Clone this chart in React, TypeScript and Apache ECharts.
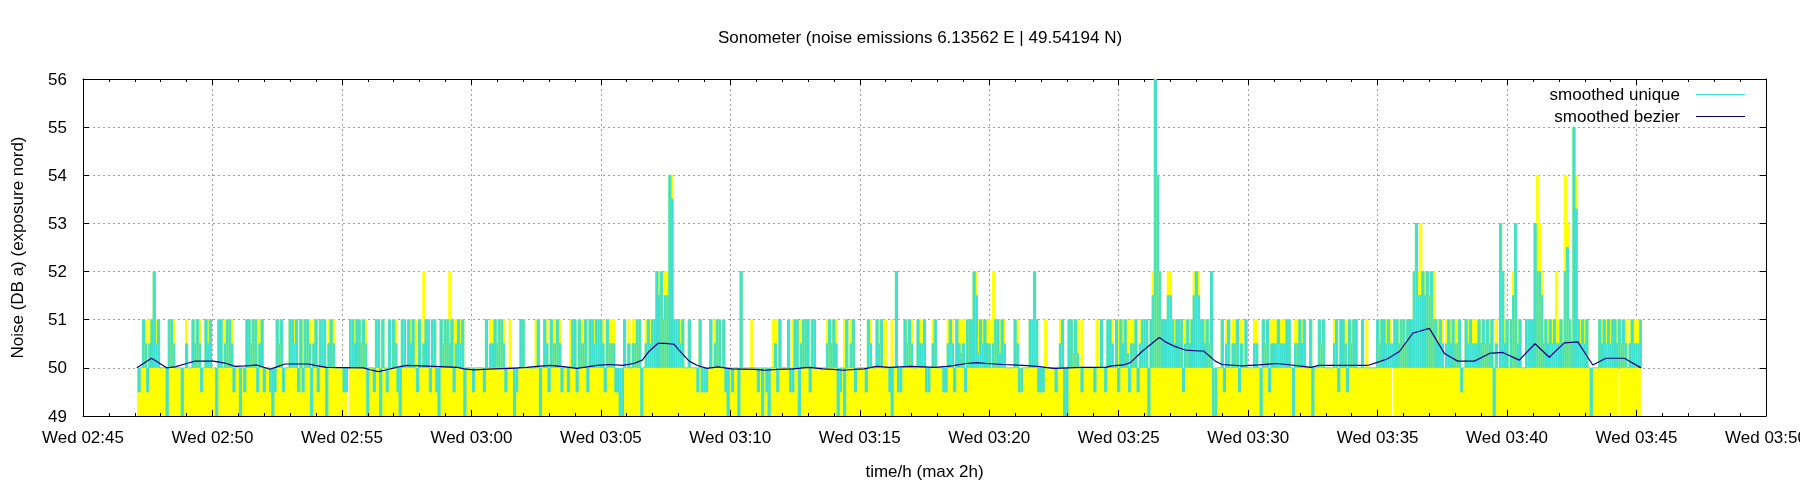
import * as echarts from "echarts";
import { useEffect, useRef } from "react";

// x values are minutes after 02:45; the sonometer gives one reading every 5 s from 02:47:05
const firstSample = 2 + 5 / 60;
const sampleStep = 5 / 60;

const TITLE = "Sonometer (noise emissions 6.13562 E | 49.54194 N)";
const TICK_LABELS = [
  "Wed 02:45", "Wed 02:50", "Wed 02:55", "Wed 03:00", "Wed 03:05", "Wed 03:10", "Wed 03:15",
  "Wed 03:20", "Wed 03:25", "Wed 03:30", "Wed 03:35", "Wed 03:40", "Wed 03:45", "Wed 03:50",
];

// smoothed unique (one row per minute)
const unique0247 = [
  50, 49.5, 50, 51, 50.5, 49.5, 50.5, 51, 52, 50.5, 51,
  50, 50, 50, 49, 51, 51, 50.5, 50, 50, 50, 49, 50,
  50.5, 50, 50, 51, 50.5, 51, 50.5, 49.5, 50, 51, 50.5, 51,
  50, 50, 49, 51, 51, 50, 50.5, 51, 51, 50.5, 49.5, 50,
  50, 49, 50, 49.5, 51, 51, 50.5, 51, 51, 49.5, 50.5, 51,
  49.5, 50, 50, 49.5, 49, 49.5, 51, 50.5, 51, 49.5, 50, 50,
  51, 51, 50.5, 51, 49.5, 51, 49.5, 51, 51, 50.5, 49, 50.5,
  51, 49.5, 51, 51, 51, 49, 50.5, 51, 50.5, 50, 50, 50,
];
const unique0255 = [
  50, 49.5, 49.5, 50, 51, 51, 50.5, 51, 51, 50.5, 51, 50.5,
  49, 50, 50, 49.5, 51, 51, 49, 51, 50, 49.5, 51, 50,
  51, 50.5, 49.5, 49, 51, 51, 50, 51, 50.5, 51, 50, 49.5,
  51, 50, 50.5, 51, 51, 49.5, 51, 51, 49.5, 49, 51, 50.5,
  51, 51, 50.5, 51, 49.5, 50.5, 51, 50.5, 51, 49, 50, 50,
  50, 49.5, 50, 50, 50, 50, 49.5, 51, 50, 50.5, 50.5, 51,
  50.5, 51, 51, 50.5, 49.5, 50, 50, 50, 49, 49.5, 50, 51,
  51, 50, 50, 50, 50, 50, 50, 51, 49, 50, 51, 50.5,
  49.5, 51, 50.5, 50.5, 51, 50.5, 49.5, 50, 50, 49.5, 50, 51,
  51, 49.5, 51, 50.5, 50.5, 51, 49.5, 51, 51, 50.5, 51, 51,
];
const unique0305 = [
  51, 50.5, 49.5, 51, 50.5, 50.5, 50.5, 49.5, 49.5, 49, 49, 51,
  50, 50.5, 50, 50.5, 50.5, 51, 51, 49, 50, 50.5, 51, 50.5,
  51, 51, 52, 51.5, 52, 51, 51.5, 51.5, 54, 53.5, 51, 51,
  51, 50.5, 51, 50, 50, 51, 50, 50, 50, 49.5, 51, 49.5,
  49.5, 49.5, 50, 51, 50, 50.5, 51, 51, 50, 51, 49.5, 49,
  50, 49.5, 50, 50, 49, 52, 50, 50, 50, 50, 50, 50,
  50, 49.5, 50, 49, 50, 49.5, 49, 50, 50, 50.5, 49.5, 51,
  50, 50, 50, 51, 49.5, 49.5, 51, 51, 49, 50.5, 51, 51,
  51, 49.5, 51, 51, 50, 50, 50, 50, 50, 50.5, 51, 50.5,
  51, 50.5, 49, 49.5, 50, 49, 51, 50, 50.5, 51, 49.5, 50,
];
const unique0315 = [
  50, 50, 50, 49.5, 51, 50.5, 50, 50, 51, 50.5, 51, 50,
  50, 50, 49.5, 49, 50, 52, 49.5, 49.5, 50, 51, 50.5, 51,
  50.5, 50, 50, 51, 50.5, 50.5, 51, 49.5, 49.5, 50, 50.5, 51,
  50, 50, 50, 49.5, 49.5, 50.5, 51, 50.5, 49.5, 51, 50.5, 50.3,
  50.5, 49.5, 51, 51, 51, 52, 51.5, 50.3, 51, 50.5, 51, 50.5,
  50.5, 50, 50.5, 51, 51, 50.3, 51, 50.5, 50, 50, 50, 50,
  51, 50.5, 49.5, 49.5, 50, 50, 50, 51, 51, 52, 51, 49.5,
  49.5, 49.5, 50, 50, 50, 50, 50, 49.5, 50, 50.5, 51, 49,
  49, 51, 51, 50.3, 51, 50.3, 50, 49.5, 50, 50, 50, 50,
  50, 49.5, 50, 50, 51, 50, 49.5, 51, 51, 50.5, 50, 51,
];
const unique0325 = [
  49.5, 51, 50.5, 51, 50.3, 49.5, 50.5, 50.5, 51, 49.5, 50.5, 51,
  51, 51, 49, 51, 51.5, 56, 54, 52, 51, 51, 51, 51.5,
  51.5, 51, 50.5, 51, 51, 51, 49.5, 50.5, 51, 50.5, 51, 51.5,
  52, 51.5, 51, 51, 50.5, 51, 50.5, 52, 49, 49, 50, 50,
  51, 49.5, 50.5, 51, 50, 50.5, 50.5, 51, 49.5, 50.5, 50, 51,
  50, 50, 50, 50.5, 50.5, 50, 49, 51, 50.5, 51, 49.5, 50.5,
  50.5, 50.5, 51, 50.5, 50.5, 50.5, 51, 51, 50, 49, 50.5, 50.5,
  51, 50.5, 51, 50, 50, 51, 49, 50, 50, 51, 50.5, 51,
  50, 50, 50, 50, 50.5, 51, 49.5, 51, 51, 50.5, 49.5, 51,
  50.5, 51, 51, 50, 50, 51, 50, 50, 50, 50, 50, 50,
];
const unique0335 = [
  51, 50.5, 51, 51, 50.5, 51, 50.5, 50.5, 51, 51, 50.5, 51,
  51, 50.5, 51, 51, 51, 52, 53, 51.5, 51.5, 52, 51.5, 52,
  51.5, 52, 51, 51, 50.5, 51, 50.5, 50, 50.5, 51, 50.5, 51,
  50.5, 50.5, 51, 49.5, 50, 51, 50.5, 51, 50.5, 50.5, 50.5, 51,
  50.5, 51, 50.5, 51, 50.5, 51, 49, 50.5, 50, 53, 52, 50.5,
  51, 50, 51, 51.5, 53, 50.5, 51, 50, 50, 51, 51, 51,
  51, 53, 52, 52, 51.5, 50.5, 51, 50.5, 51, 50.5, 51, 50.5,
  50.5, 51, 50.5, 52, 52.5, 51, 50.5, 55, 53.3, 51, 50.5, 51,
  50.5, 51, 50, 49, 50, 50, 50, 51, 50.5, 51, 50.5, 51,
  50.5, 51, 51, 50.5, 51, 50.5, 51, 50.5, 50, 50.5, 51, 50.5,
  50.5, 50.5, 51,
];

// raw readings (drawn as yellow impulses)
const raw0247 = [
  50, 50, 50, 51, 51, 50, 51, 51, 52, 51, 51,
  50, 50, 50, 50, 51, 51, 51, 50, 50, 50, 50, 50,
  51, 50, 50, 51, 51, 51, 51, 50, 50, 51, 51, 51,
  50, 50, 50, 51, 51, 50, 51, 51, 51, 51, 50, 50,
  50, 50, 50, 50, 51, 51, 51, 51, 51, 51, 51, 51,
  50, 50, 50, 50, 50, 50, 51, 51, 51, 50, 50, 50,
  51, 51, 51, 51, 50, 51, 51, 51, 51, 51, 50, 51,
  51, 50, 51, 51, 51, 50, 51, 51, 51, 50, 50, 50,
];
const raw0255 = [
  50, 50, 50, 49, 51, 51, 51, 51, 51, 51, 51, 51,
  50, 50, 50, 50, 51, 51, 50, 51, 50, 50, 51, 50,
  51, 51, 50, 50, 51, 51, 50, 51, 51, 51, 51, 50,
  51, 50, 52, 51, 51, 50, 51, 51, 50, 50, 51, 51,
  51, 51, 52, 51, 51, 51, 51, 51, 51, 50, 50, 50,
  50, 50, 50, 50, 50, 50, 50, 51, 50, 51, 51, 51,
  51, 51, 51, 51, 50, 50, 51, 50, 50, 50, 50, 51,
  51, 50, 50, 50, 50, 50, 51, 51, 50, 50, 51, 51,
  50, 51, 51, 51, 51, 51, 50, 50, 50, 50, 51, 51,
  51, 50, 51, 51, 51, 51, 50, 51, 51, 51, 51, 51,
];
const raw0305 = [
  51, 51, 50, 51, 51, 51, 51, 50, 50, 50, 50, 51,
  50, 51, 50, 51, 51, 51, 51, 50, 50, 51, 51, 51,
  51, 51, 52, 52, 52, 51, 52, 52, 54, 54, 51, 51,
  51, 51, 51, 50, 50, 51, 50, 50, 50, 50, 51, 50,
  50, 50, 50, 51, 50, 51, 51, 51, 50, 51, 50, 50,
  50, 50, 50, 50, 50, 52, 50, 50, 50, 50, 51, 50,
  50, 50, 50, 50, 50, 50, 50, 50, 51, 51, 50, 51,
  50, 50, 50, 51, 50, 51, 51, 51, 50, 51, 51, 51,
  51, 50, 51, 51, 50, 50, 50, 50, 50, 51, 51, 51,
  51, 51, 50, 50, 50, 51, 51, 50, 51, 51, 50, 50,
];
const raw0315 = [
  50, 50, 50, 50, 51, 51, 50, 50, 51, 51, 51, 50,
  51, 50, 50, 51, 50, 52, 50, 50, 50, 51, 51, 51,
  51, 50, 50, 51, 51, 51, 51, 50, 50, 50, 51, 51,
  50, 50, 50, 50, 50, 51, 51, 51, 50, 51, 51, 51,
  51, 50, 51, 51, 51, 52, 52, 51, 51, 51, 51, 51,
  51, 50, 52, 51, 51, 51, 51, 51, 50, 50, 50, 50,
  51, 51, 50, 50, 50, 50, 50, 51, 51, 52, 51, 50,
  50, 50, 51, 50, 50, 50, 50, 50, 50, 51, 51, 50,
  50, 51, 51, 51, 51, 51, 50, 51, 50, 50, 50, 50,
  50, 50, 51, 50, 51, 50, 50, 51, 51, 51, 50, 51,
];
const raw0325 = [
  51, 51, 51, 51, 51, 50, 51, 51, 51, 50, 51, 51,
  51, 51, 50, 51, 52, 56, 54, 52, 51, 51, 51, 52,
  52, 51, 51, 51, 51, 51, 50, 51, 51, 51, 51, 52,
  52, 52, 51, 51, 51, 51, 51, 52, 50, 50, 50, 50,
  51, 50, 51, 51, 50, 51, 51, 51, 50, 51, 50, 51,
  50, 50, 50, 51, 51, 50, 50, 51, 51, 51, 50, 51,
  51, 51, 51, 51, 51, 51, 51, 51, 50, 50, 51, 51,
  51, 51, 51, 50, 50, 51, 50, 50, 50, 51, 51, 51,
  50, 50, 50, 50, 51, 51, 50, 51, 51, 51, 50, 51,
  51, 51, 51, 50, 50, 51, 50, 51, 50, 50, 50, 50,
];
const raw0335 = [
  51, 51, 51, 51, 51, 51, 51, 49, 51, 51, 51, 51,
  51, 51, 51, 51, 51, 52, 53, 52, 53, 52, 52, 52,
  52, 52, 52, 51, 51, 51, 51, 50, 51, 51, 51, 51,
  51, 51, 51, 50, 50, 51, 51, 51, 51, 51, 51, 51,
  51, 51, 51, 51, 51, 51, 50, 51, 50, 53, 52, 51,
  51, 50, 51, 52, 53, 51, 51, 50, 50, 51, 51, 51,
  51, 53, 54, 53, 52, 51, 51, 51, 51, 51, 51, 52,
  51, 51, 51, 54, 53, 51, 51, 55, 54, 51, 51, 51,
  51, 51, 50, 50, 50, 50, 50, 51, 51, 51, 51, 51,
  51, 51, 51, 51, 49, 51, 51, 51, 50, 51, 51, 51,
  51, 51, 51,
];

// smoothed bezier, vertices (minutes after 02:45, dB)
const bezierMinutes = [
  2.08, 2.65, 3.23, 3.55, 4.07, 4.33, 5.03, 5.48, 5.87, 6.26,
  6.71, 7.22, 7.54, 7.8, 8.7, 8.96, 9.41, 10.83, 11.09, 11.41,
  11.73, 12.11, 12.5, 13.56, 14.46, 14.72, 15.1, 15.87, 16.52, 17.14,
  17.55, 18.06, 18.64, 19.07, 19.48, 19.84, 20.32, 20.83, 21.28, 21.6,
  21.86, 22.21, 22.47, 22.83, 23.02, 23.41, 23.73, 24.1, 24.53, 25.05,
  25.94, 26.33, 26.84, 27.42, 28.03, 28.58, 28.97, 29.36, 29.81, 30.17,
  30.64, 31.16, 31.99, 32.9, 33.39, 33.67, 34.12, 34.54, 34.89, 35.54,
  36.31, 36.84, 37.49, 38.58, 39.49, 39.74, 40.19, 40.45, 40.9, 41.29,
  41.57, 41.8, 42.19, 42.58, 43.12, 43.28, 43.73, 43.99, 44.77, 45.41,
  46.08, 46.5, 46.95, 47.44, 47.73, 48.78, 49.62, 50.07, 50.39, 50.84,
  51.36, 51.55, 52.0, 52.58, 53.09, 53.74, 54.32, 54.83, 55.47, 56.08,
  56.63, 57.21, 57.73, 58.31, 58.82, 59.53, 60.17,
];
const bezierValues = [
  50.0, 50.2, 50.0, 50.02, 50.1, 50.14, 50.14, 50.1, 50.03, 50.04,
  50.06, 49.97, 50.03, 50.08, 50.08, 50.05, 50.01, 50.0, 49.96, 49.92,
  49.96, 50.01, 50.05, 50.03, 50.01, 49.98, 49.96, 49.98, 49.99, 50.01,
  50.03, 50.05, 50.02, 49.99, 50.02, 50.05, 50.07, 50.05, 50.09, 50.16,
  50.34, 50.51, 50.51, 50.49, 50.37, 50.14, 50.05, 49.99, 50.02, 49.98,
  49.97, 49.95, 49.97, 49.98, 50.01, 49.98, 49.97, 49.95, 49.97, 49.98,
  50.03, 50.01, 50.03, 50.01, 50.03, 50.05, 50.09, 50.11, 50.09, 50.07,
  50.05, 50.03, 49.99, 50.01, 50.01, 50.04, 50.06, 50.11, 50.34, 50.51,
  50.63, 50.54, 50.44, 50.37, 50.35, 50.35, 50.14, 50.07, 50.04, 50.06,
  50.09, 50.07, 50.04, 50.01, 50.05, 50.05, 50.05, 50.13, 50.19, 50.34,
  50.72, 50.75, 50.82, 50.3, 50.14, 50.14, 50.3, 50.32, 50.16, 50.5,
  50.22, 50.52, 50.54, 50.06, 50.2, 50.2, 50.0,
];

const uniqueValues = [...unique0247, ...unique0255, ...unique0305, ...unique0315, ...unique0325, ...unique0335];
const rawValues = [...raw0247, ...raw0255, ...raw0305, ...raw0315, ...raw0325, ...raw0335];

const FONT = "'Liberation Sans', Arial, Helvetica, sans-serif";
const YELLOW = "#ffff00";
const CYAN = "#40e0d0";
const NAVY = "#000080";
const GRID = "#a0a0a0";

export default function App() {
  const ref = useRef<HTMLDivElement>(null);

  useEffect(() => {
    if (!ref.current) return;
    const chart = echarts.init(ref.current, undefined, { renderer: "svg" });

    const rawPairs = rawValues.map((v, i) => [firstSample + i * sampleStep, v]);
    const uniquePairs = uniqueValues.map((v, i) => [firstSample + i * sampleStep, v]);
    const bezierPairs = bezierMinutes.map((t, i) => [t, bezierValues[i]]);
    const half = sampleStep / 2;

    const tickLabel = (v: number) => TICK_LABELS[Math.round(v / 5)] ?? "";
    const axisText = { fontSize: 17, color: "#000", fontFamily: FONT };
    const black = { color: "#000", width: 1 };
    const dashed = { color: GRID, width: 1, type: [2, 3] };

    chart.setOption({
      animation: false,
      textStyle: { fontFamily: FONT },
      graphic: [
        {
          type: "text",
          x: 920,
          y: 37,
          style: {
            text: TITLE,
            fontSize: 17,
            fontFamily: FONT,
            fill: "#000",
            align: "center",
            verticalAlign: "middle",
          },
        },
      ],
      legend: {
        data: ["smoothed unique", "smoothed bezier"],
        orient: "vertical",
        right: 55,
        top: 86,
        align: "right",
        padding: 0,
        icon: "rect",
        itemWidth: 49,
        itemHeight: 1.2,
        itemGap: 5,
        selectedMode: false,
        textStyle: { ...axisText, padding: [0, 11, 0, 0] },
      },
      grid: { left: 83, right: 34, top: 79, bottom: 84, outerBoundsMode: "none" },
      xAxis: [
        {
          type: "value",
          position: "bottom",
          min: 0,
          max: 65,
          interval: 5,
          z: 10,
          name: "time/h (max 2h)",
          nameLocation: "middle",
          nameGap: 47,
          nameMoveOverlap: false,
          nameTextStyle: axisText,
          axisLine: { show: true, onZero: false, lineStyle: black },
          axisTick: { show: true, inside: true, length: 6, lineStyle: black },
          minorTick: { show: true, splitNumber: 5, length: 3, lineStyle: black },
          axisLabel: { ...axisText, margin: 13, formatter: tickLabel },
          splitLine: { show: false },
        },
        {
          type: "value",
          position: "top",
          min: 0,
          max: 65,
          interval: 5,
          axisLine: { show: true, onZero: false, lineStyle: black },
          axisTick: { show: true, inside: true, length: 6, lineStyle: black },
          minorTick: { show: true, splitNumber: 5, length: 3, lineStyle: black },
          axisLabel: { show: false },
          splitLine: { show: true, lineStyle: dashed },
        },
      ],
      yAxis: [
        {
          type: "value",
          position: "left",
          min: 49,
          max: 56,
          interval: 1,
          z: 10,
          name: "Noise (DB a) (exposure nord)",
          nameLocation: "middle",
          nameGap: 57,
          nameMoveOverlap: false,
          nameTextStyle: axisText,
          axisLine: { show: true, onZero: false, lineStyle: black },
          axisTick: { show: true, inside: true, length: 6, lineStyle: black },
          axisLabel: { ...axisText, margin: 16 },
          splitLine: { show: false },
        },
        {
          type: "value",
          position: "right",
          min: 49,
          max: 56,
          interval: 1,
          axisLine: { show: true, onZero: false, lineStyle: black },
          axisTick: { show: true, inside: true, length: 6, lineStyle: black },
          axisLabel: { show: false },
          splitLine: { show: true, lineStyle: dashed },
        },
      ],
      series: [
        {
          type: "line",
          name: "raw",
          z: 2,
          data: rawPairs,
          step: "middle",
          symbol: "none",
          silent: true,
          lineStyle: { color: YELLOW, width: 1 },
          itemStyle: { color: YELLOW },
          areaStyle: { color: YELLOW, opacity: 1, origin: "start" },
        },
        {
          type: "custom",
          name: "unique fill",
          z: 3,
          data: uniquePairs,
          silent: true,
          encode: { x: 0, y: 1 },
          renderItem: (_params: any, api: any) => {
            const t = api.value(0);
            const u = api.value(1);
            const a = api.coord([t - half, 50]);
            const b = api.coord([t + half, u]);
            return {
              type: "rect",
              shape: {
                x: a[0],
                y: Math.min(a[1], b[1]),
                width: b[0] - a[0],
                height: Math.abs(a[1] - b[1]),
              },
              style: { fill: CYAN },
            };
          },
        },
        {
          type: "line",
          name: "smoothed unique",
          z: 4,
          data: uniquePairs,
          step: "middle",
          symbol: "none",
          lineStyle: { color: CYAN, width: 1 },
          itemStyle: { color: CYAN },
        },
        {
          type: "line",
          name: "smoothed bezier",
          z: 5,
          data: bezierPairs,
          symbol: "none",
          lineStyle: { color: NAVY, width: 1.2 },
          itemStyle: { color: NAVY },
        },
      ],
    });

    return () => chart.dispose();
  }, []);

  return <div ref={ref} style={{ position: "fixed", left: 0, top: 0, width: 1800, height: 500 }} />;
}
